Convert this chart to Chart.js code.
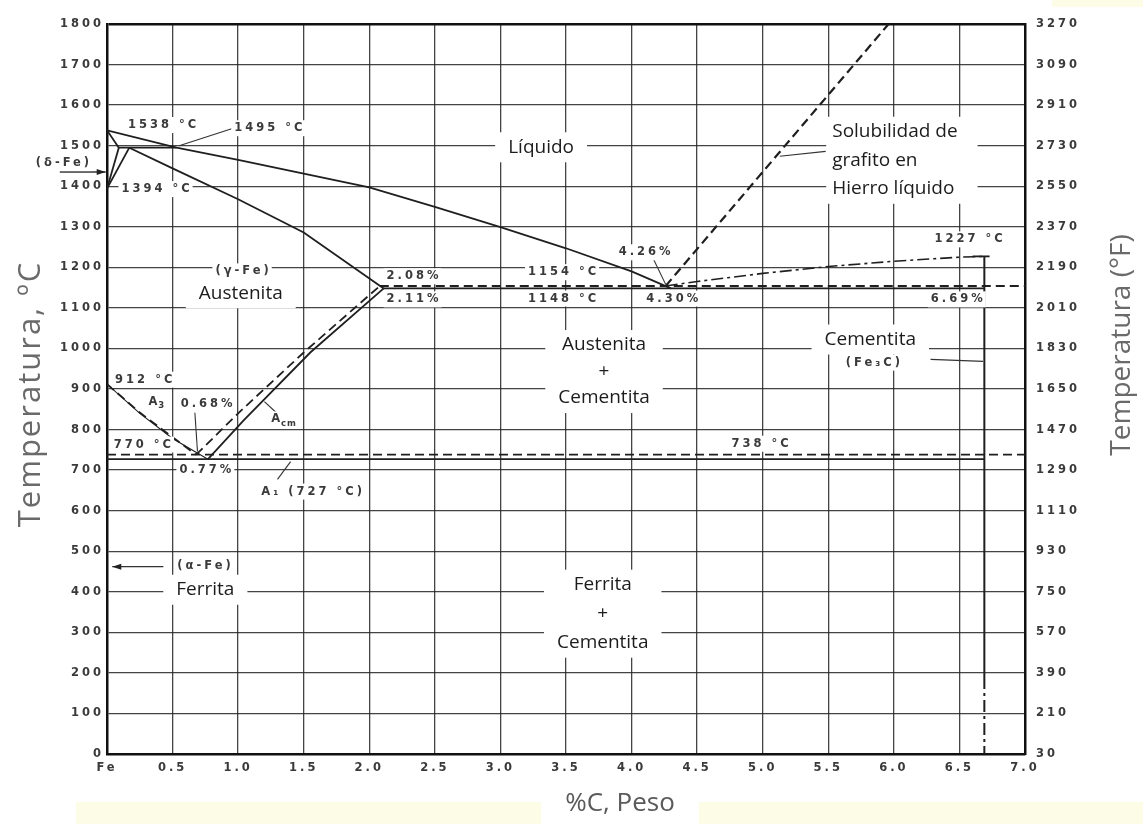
<!DOCTYPE html>
<html>
<head>
<meta charset="utf-8">
<script src="https://cdn.jsdelivr.net/npm/chart.js@4.4.1/dist/chart.umd.min.js"></script>
<style>
  html, body { margin: 0; padding: 0; background: #ffffff; }
  canvas { display: block; }
</style>
</head>
<body>
<canvas id="feC" width="1143" height="824"></canvas>
<script>
// ---- Axis ticks ----
const xTickValues = [0, 0.5, 1.0, 1.5, 2.0, 2.5, 3.0, 3.5, 4.0, 4.5, 5.0, 5.5, 6.0, 6.5, 7.0];
const xTickLabels = ['Fe', '0.5', '1.0', '1.5', '2.0', '2.5', '3.0', '3.5', '4.0', '4.5', '5.0', '5.5', '6.0', '6.5', '7.0'];
const yTickValues = [0, 100, 200, 300, 400, 500, 600, 700, 800, 900, 1000, 1100, 1200, 1300, 1400, 1500, 1600, 1700, 1800];
const yTickLabels = ['0', '100', '200', '300', '400', '500', '600', '700', '800', '900', '1000', '1100', '1200', '1300', '1400', '1500', '1600', '1700', '1800'];
const fTickLabels = ['30', '210', '390', '570', '750', '930', '1110', '1290', '1470', '1650', '1830', '2010', '2190', '2370', '2550', '2730', '2910', '3090', '3270'];

// ---- Phase boundaries (%C, °C) ----
const liquidusC = [0, 0.53, 1.0, 1.5, 2.0, 2.5, 3.0, 3.5, 4.0, 4.30];
const liquidusT = [1538, 1495, 1465, 1431, 1397, 1349, 1299, 1247, 1190, 1148];
const deltaSolidusC = [0, 0.09];
const deltaSolidusT = [1538, 1495];
const peritecticC = [0.09, 0.53];
const peritecticT = [1495, 1495];
const deltaGammaLeftC = [0.09, 0];
const deltaGammaLeftT = [1495, 1394];
const deltaGammaRightC = [0.17, 0];
const deltaGammaRightT = [1495, 1394];
const gammaSolidusC = [0.17, 0.5, 1.0, 1.5, 2.11];
const gammaSolidusT = [1495, 1444, 1368, 1286, 1148];
const eutecticC = [2.11, 6.69];
const eutecticT = [1148, 1148];
const eutecticGraphiteC = [2.08, 7.0];
const eutecticGraphiteT = [1154, 1154];
const eutectoidC = [0, 6.69];
const eutectoidT = [727, 727];
const eutectoidGraphiteC = [0, 7.0];
const eutectoidGraphiteT = [738, 738];
const a3C = [0, 0.25, 0.5, 0.77];
const a3T = [912, 840, 778, 727];
const a3GraphiteC = [0, 0.25, 0.5, 0.68];
const a3GraphiteT = [912, 842, 781, 738];
const acmC = [0.77, 1.04, 1.55, 2.11];
const acmT = [727, 822, 990, 1148];
const acmGraphiteC = [0.68, 1.0, 1.5, 2.08];
const acmGraphiteT = [738, 840, 990, 1154];
const graphiteLiquidC = [4.26, 5.96];
const graphiteLiquidT = [1154, 1800];
const cementiteLiquidusC = [4.26, 4.5, 5.0, 5.5, 6.0, 6.5, 6.69];
const cementiteLiquidusT = [1154, 1165, 1185, 1202, 1215, 1225, 1227];
const cementiteCapC = [6.6, 6.73];
const cementiteCapT = [1227, 1227];
const cementiteSolidC = [6.69, 6.69];
const cementiteSolidT = [1227, 190];
const cementiteLowC = [6.69, 6.69];
const cementiteLowT = [190, 0];

const pts = (cs, ts) => cs.map((c, i) => ({ x: c, y: ts[i] }));

const INK = '#1f1f1f';
const SOLID = [];
const DASH = [9, 5];
const DASHDOT = [12, 4, 3, 4];

function line(cs, ts, dash, width) {
  return {
    data: pts(cs, ts),
    borderColor: INK,
    borderWidth: width || 1.8,
    borderDash: dash,
    pointRadius: 0,
    fill: false,
    tension: 0,
    showLine: true
  };
}

const datasets = [
  line(liquidusC, liquidusT, SOLID),
  line(deltaSolidusC, deltaSolidusT, SOLID),
  line(peritecticC, peritecticT, SOLID),
  line(deltaGammaLeftC, deltaGammaLeftT, SOLID),
  line(deltaGammaRightC, deltaGammaRightT, SOLID),
  line(gammaSolidusC, gammaSolidusT, SOLID),
  line(eutecticC, eutecticT, SOLID),
  line(eutecticGraphiteC, eutecticGraphiteT, DASH, 1.8),
  line(eutectoidC, eutectoidT, SOLID, 1.6),
  line(eutectoidGraphiteC, eutectoidGraphiteT, DASH, 1.8),
  line(a3C, a3T, SOLID, 1.1),
  line(a3GraphiteC, a3GraphiteT, DASH, 1.8),
  line(acmC, acmT, SOLID),
  line(acmGraphiteC, acmGraphiteT, DASH, 1.8),
  line(graphiteLiquidC, graphiteLiquidT, DASH, 2.2),
  line(cementiteLiquidusC, cementiteLiquidusT, DASHDOT, 1.6),
  line(cementiteCapC, cementiteCapT, SOLID),
  line(cementiteSolidC, cementiteSolidT, SOLID, 2),
  line(cementiteLowC, cementiteLowT, DASHDOT, 2)
];

// ---- Annotations (text, %C, °C) ----
const oldLabels = [
  ['1538 °C', 0.42, 1551],
  ['1495 °C', 1.23, 1543],
  ['(δ-Fe)', -0.34, 1457],
  ['1394 °C', 0.37, 1393],
  ['4.26%', 4.10, 1237],
  ['2.08%', 2.33, 1178],
  ['1154 °C', 3.47, 1188],
  ['2.11%', 2.33, 1121],
  ['1148 °C', 3.47, 1123],
  ['4.30%', 4.31, 1123],
  ['(γ-Fe)', 1.03, 1190],
  ['1227 °C', 6.57, 1269],
  ['6.69%', 6.48, 1121],
  ['(Fe₃C)', 5.84, 965],
  ['912 °C', 0.28, 923],
  ['0.68%', 0.76, 862],
  ['770 °C', 0.27, 763],
  ['0.77%', 0.75, 701],
  ['A₁ (727 °C)', 1.56, 647],
  ['738 °C', 4.98, 765],
  ['(α-Fe)', 0.74, 464]
];
const subLabels = [
  ['A', '3', 0.38, 869],
  ['A', 'cm', 1.35, 825]
];
const phaseLabels = [
  { lines: ['Líquido'], c: 3.31, t: 1496, lh: 0 },
  { lines: ['Austenita'], c: 1.02, t: 1136, lh: 0 },
  { lines: ['Austenita', '+', 'Cementita'], c: 3.79, t: 943, lh: 26.5 },
  { lines: ['Ferrita'], c: 0.75, t: 405, lh: 0 },
  { lines: ['Ferrita', '+', 'Cementita'], c: 3.78, t: 346, lh: 29 },
  { lines: ['Cementita'], c: 5.82, t: 1022, lh: 0 },
  { lines: ['Solubilidad de', 'grafito en', 'Hierro líquido'], c: 5.53, t: 1464, lh: 28.5, left: true }
];
const leaders = [
  [0.55, 1500, 0.98, 1545],
  [4.16, 1225, 4.26, 1158],
  [0.67, 842, 0.69, 746],
  [1.20, 869, 1.29, 842],
  [1.30, 677, 1.40, 721],
  [5.13, 1474, 5.48, 1486],
  [6.28, 973, 6.68, 968]
];
// arrows: from (c,t) to (c,t), head at the end
const arrows = [
  [-0.36, 1435, -0.01, 1435],
  [0.43, 462, 0.04, 462]
];

const OLD_FONT = 'bold 11.5px "DejaVu Sans"';
const OLD_SMALL = 'bold 8.5px "DejaVu Sans"';
const OLD_SPACING = 3;
const OLD_INK = '#3a3a3a';
const NEW_FONT = '19px "Open Sans"';

function oldText(ctx, str, x, y) {
  ctx.save();
  ctx.font = OLD_FONT;
  ctx.letterSpacing = OLD_SPACING + 'px';
  const w = ctx.measureText(str).width - OLD_SPACING;
  ctx.fillStyle = '#ffffff';
  ctx.fillRect(x - w / 2 - 3, y - 8, w + 6, 16);
  ctx.fillStyle = OLD_INK;
  ctx.textAlign = 'left';
  ctx.textBaseline = 'middle';
  ctx.fillText(str, x - w / 2, y);
  ctx.restore();
}

function subText(ctx, main, sub, x, y) {
  ctx.save();
  ctx.textBaseline = 'middle';
  ctx.textAlign = 'left';
  ctx.font = OLD_FONT;
  ctx.letterSpacing = '1px';
  const w1 = ctx.measureText(main).width;
  ctx.font = OLD_SMALL;
  const w2 = ctx.measureText(sub).width;
  const x0 = x - (w1 + w2) / 2;
  ctx.fillStyle = '#ffffff';
  ctx.fillRect(x0 - 2, y - 8, w1 + w2 + 4, 17);
  ctx.fillStyle = OLD_INK;
  ctx.font = OLD_FONT;
  ctx.fillText(main, x0, y);
  ctx.font = OLD_SMALL;
  ctx.fillText(sub, x0 + w1, y + 4);
  ctx.restore();
}

const diagramDecor = {
  id: 'diagramDecor',
  beforeDraw(chart) {
    const ctx = chart.ctx;
    ctx.save();
    ctx.fillStyle = '#ffffff';
    ctx.fillRect(0, 0, chart.width, chart.height);
    ctx.fillStyle = '#fdfce6';
    ctx.fillRect(76, 802, chart.width - 76, 22);
    ctx.fillRect(1052, 0, chart.width - 1052, 7);
    ctx.restore();
    ctx.letterSpacing = OLD_SPACING + 'px';
  },
  beforeDatasetsDraw(chart) {
    const ctx = chart.ctx;
    const sx = chart.scales.x, sy = chart.scales.y;
    ctx.save();
    ctx.letterSpacing = '0px';
    ctx.font = NEW_FONT;
    ctx.fillStyle = '#ffffff';
    phaseLabels.forEach(p => {
      const w = Math.max(...p.lines.map(s => ctx.measureText(s).width));
      const n = p.lines.length;
      const h = (n - 1) * p.lh + 22;
      const cx = sx.getPixelForValue(p.c);
      const cy = sy.getPixelForValue(p.t);
      const left = p.left ? cx - 6 : cx - w / 2 - 13;
      ctx.fillRect(left, cy - h / 2 - 4, w + 26, h + 8);
    });
    ctx.restore();
  },
  afterDatasetsDraw(chart) {
    const ctx = chart.ctx;
    const sx = chart.scales.x, sy = chart.scales.y;
    const X = v => sx.getPixelForValue(v);
    const Y = v => sy.getPixelForValue(v);

    ctx.save();
    ctx.strokeStyle = '#333333';
    ctx.lineWidth = 1.1;
    ctx.setLineDash([]);
    leaders.forEach(l => {
      ctx.beginPath();
      ctx.moveTo(X(l[0]), Y(l[1]));
      ctx.lineTo(X(l[2]), Y(l[3]));
      ctx.stroke();
    });
    arrows.forEach(a => {
      const x1 = X(a[0]), y1 = Y(a[1]), x2 = X(a[2]), y2 = Y(a[3]);
      ctx.lineWidth = 1.4;
      ctx.beginPath();
      ctx.moveTo(x1, y1);
      ctx.lineTo(x2, y2);
      ctx.stroke();
      const dir = Math.sign(x2 - x1);
      ctx.fillStyle = '#222222';
      ctx.beginPath();
      ctx.moveTo(x2, y2);
      ctx.lineTo(x2 - dir * 9, y2 - 3);
      ctx.lineTo(x2 - dir * 9, y2 + 3);
      ctx.closePath();
      ctx.fill();
    });
    ctx.restore();

    oldLabels.forEach(l => oldText(ctx, l[0], X(l[1]), Y(l[2])));
    subLabels.forEach(l => subText(ctx, l[0], l[1], X(l[2]), Y(l[3])));

    ctx.save();
    ctx.letterSpacing = '0px';
    ctx.font = NEW_FONT;
    ctx.fillStyle = '#1c1c1c';
    ctx.textBaseline = 'middle';
    phaseLabels.forEach(p => {
      const n = p.lines.length;
      const cx = X(p.c);
      const cy = Y(p.t);
      ctx.textAlign = p.left ? 'left' : 'center';
      p.lines.forEach((s, i) => {
        ctx.fillText(s, cx, cy + (i - (n - 1) / 2) * p.lh);
      });
    });
    ctx.restore();
  },
  afterDraw(chart) {
    const ctx = chart.ctx;
    ctx.save();
    ctx.letterSpacing = '0px';
    ctx.font = '26px "Open Sans"';
    ctx.textAlign = 'center';
    ctx.textBaseline = 'middle';
    // bottom axis title on its white strip
    const xt = '%C, Peso';
    const xc = 620;
    const w = ctx.measureText(xt).width;
    ctx.fillStyle = '#ffffff';
    ctx.fillRect(xc - w / 2 - 24, 786, w + 48, 38);
    ctx.fillStyle = '#5a5a5a';
    ctx.fillText(xt, xc, 804);
    // vertical titles
    ctx.fillStyle = '#6a6a6a';
    ctx.save();
    ctx.font = '31px "Open Sans"';
    ctx.letterSpacing = '2px';
    ctx.translate(31, 394);
    ctx.rotate(-Math.PI / 2);
    ctx.fillText('Temperatura, ºC', 0, 0);
    ctx.restore();
    ctx.save();
    ctx.font = '28px "Open Sans"';
    ctx.translate(1122, 345);
    ctx.rotate(-Math.PI / 2);
    ctx.fillText('Temperatura (°F)', 0, 0);
    ctx.restore();
    ctx.restore();
    ctx.letterSpacing = '0px';
  }
};

const tickFont = { family: 'DejaVu Sans', size: 11.5, weight: 'bold' };
const TICK_INK = '#3a3a3a';
const GRID = 'rgba(35,35,35,0.85)';

new Chart(document.getElementById('feC'), {
  type: 'line',
  data: { datasets },
  options: {
    responsive: false,
    animation: false,
    devicePixelRatio: 1,
    layout: { padding: { top: 24, left: 0, right: 0, bottom: 0 } },
    plugins: { legend: { display: false }, tooltip: { enabled: false } },
    scales: {
      x: {
        type: 'linear',
        min: 0,
        max: 7,
        afterBuildTicks: s => { s.ticks = xTickValues.map(v => ({ value: v })); },
        afterFit: s => { s.height = 70; },
        ticks: {
          autoSkip: false,
          maxRotation: 0,
          padding: 7,
          color: TICK_INK,
          font: tickFont,
          callback: (v, i) => xTickLabels[i]
        },
        grid: { color: GRID, lineWidth: 1.3, drawTicks: false },
        border: { display: true, color: '#111111', width: 2.5 }
      },
      y: {
        type: 'linear',
        position: 'left',
        min: 0,
        max: 1800,
        afterBuildTicks: s => { s.ticks = yTickValues.map(v => ({ value: v })); },
        afterFit: s => { s.width = 107; },
        ticks: {
          padding: 3,
          color: TICK_INK,
          font: tickFont,
          callback: (v, i) => yTickLabels[i]
        },
        grid: {
          color: c => (c.tick && c.tick.value === 1800) ? '#111111' : GRID,
          lineWidth: c => (c.tick && c.tick.value === 1800) ? 2.5 : 1.3,
          drawTicks: false
        },
        border: { display: true, color: '#111111', width: 2.5 }
      },
      y2: {
        type: 'linear',
        position: 'right',
        min: 0,
        max: 1800,
        afterBuildTicks: s => { s.ticks = yTickValues.map(v => ({ value: v })); },
        afterFit: s => { s.width = 118; },
        ticks: {
          padding: 11,
          color: TICK_INK,
          font: tickFont,
          callback: (v, i) => fTickLabels[i]
        },
        grid: { display: true, drawOnChartArea: false, drawTicks: false },
        border: { display: true, color: '#111111', width: 2.5 }
      }
    }
  },
  plugins: [diagramDecor]
});
</script>
</body>
</html>
